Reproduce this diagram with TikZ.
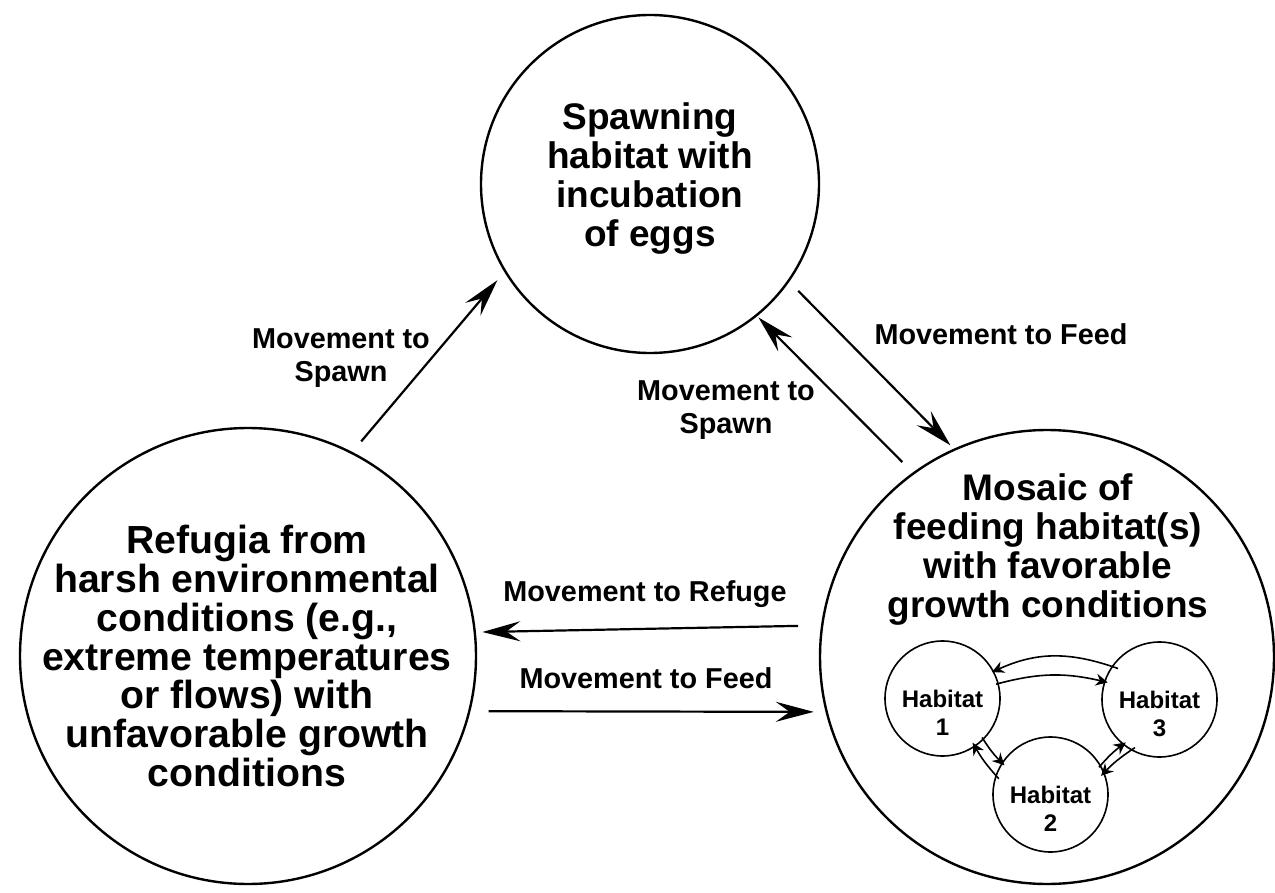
\documentclass[tikz,border=0pt]{standalone}
\usepackage{fontspec}
\setmainfont{Liberation Sans}
\usetikzlibrary{arrows.meta,calc}
\begin{document}
\begin{tikzpicture}[x=0.5pt,y=-0.5pt,
  big/.style={circle,draw,line width=1.2pt,inner sep=0pt,outer sep=0pt},
  maintxt/.style={align=center,font=\fontsize{18.5}{19.5}\selectfont\bfseries},
  lbl/.style={align=center,font=\fontsize{14.4}{16.5}\selectfont\bfseries},
  hab/.style={circle,draw,line width=0.8pt,minimum size=57.5pt,inner sep=0pt,outer sep=0pt},
  habtxt/.style={align=center,font=\fontsize{12}{14}\selectfont\bfseries},
  arr/.style={line width=1.1pt,-{Stealth[length=19pt,width=10pt,inset=7pt]}},
  harr/.style={line width=0.8pt,-{Stealth[length=6pt,width=6pt,inset=2pt]}},
]
\useasboundingbox (0,0) rectangle (1275,893);
% main circles
\node[big,minimum size=169pt] (top) at (650,184) {};
\node[big,minimum size=228pt] (left) at (248,656) {};
\node[big,minimum size=227pt] (right) at (1047,657) {};
\node[maintxt] (toptxt) at (650,179) {Spawning\\habitat with\\incubation\\of eggs};
\node[maintxt,font=\fontsize{19.6}{19.4}\selectfont\bfseries] (lefttxt) at (247,656) {Refugia from\\harsh environmental\\conditions (e.g.,\\extreme temperatures\\or flows) with\\unfavorable growth\\conditions};
\node[maintxt] (righttxt) at (1048,550) {Mosaic of\\feeding habitat(s)\\with favorable\\growth conditions};
% connectors
\draw[arr,shorten <=7.5pt,shorten >=6pt] (left.63.3) -- (top.211.7);
\draw[arr,shorten <=7pt,shorten >=3pt] (top.-35.8) -- (right.114.3);
\draw[arr,shorten <=8pt,shorten >=1.5pt] (right.126.3) -- (top.-51.1);
\draw[arr,shorten <=12pt,shorten >=3.8pt] (right.172.9) -- (left.6.8);
\draw[arr,shorten <=9.75pt,shorten >=6.5pt] (left.-14.7) -- (right.194.5);
% labels
\node[lbl] (l1) at (341,358) {Movement to\\Spawn};
\node[lbl] (l2) at (726,410) {Movement to\\Spawn};
\node[lbl] (l3) at (1001,334) {Movement to Feed};
\node[lbl] (l4) at (645,594) {Movement to Refuge};
\node[lbl] (l5) at (646,678) {Movement to Feed};
% habitats
\node[hab] (h1) at (942.5,698.5) {};
\node[hab] (h3) at (1159.5,699.5) {};
\node[hab] (h2) at (1050.5,794.5) {};
\node[habtxt] (h1t) at ($(h1)+(0,14)$) {Habitat\\1};
\node[habtxt] (h3t) at ($(h3)+(0,14)$) {Habitat\\3};
\node[habtxt] (h2t) at ($(h2)+(0,14)$) {Habitat\\2};
\draw[harr,shorten <=-3pt,shorten >=-0.7pt] (h3.145) to[bend right=22] (h1.28);
\draw[harr,shorten <=-1pt,shorten >=-1.5pt] (h1.15) to[bend left=14] (h3.162);
\draw[harr,shorten <=-2pt,shorten >=-2pt] (h2.161) to[bend left=6] (h1.-56.5);
\draw[harr,shorten <=-1pt,shorten >=-1.5pt] (h1.-45) to[bend right=6] (h2.147);
\draw[harr,shorten <=-1pt,shorten >=-1.5pt] (h2.30) to[bend left=6] (h3.231);
\draw[harr,shorten <=-2pt,shorten >=-2pt] (h3.241) to[bend right=6] (h2.22);
\end{tikzpicture}
\end{document}
